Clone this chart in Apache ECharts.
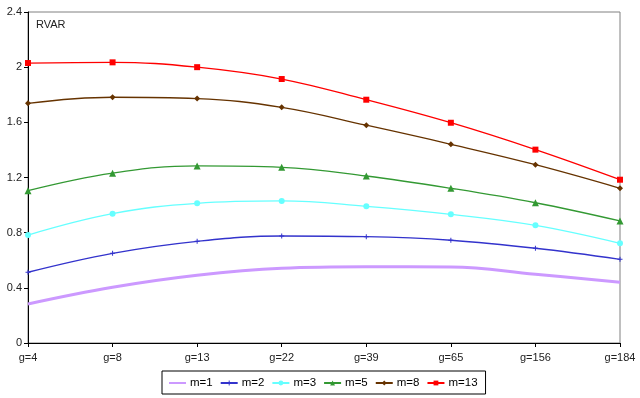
<!DOCTYPE html>
<html>
<head>
<meta charset="utf-8">
<script src="https://cdn.jsdelivr.net/npm/echarts@6/dist/echarts.min.js"></script>
<style>html,body{margin:0;padding:0;background:#fff}#c{width:640px;height:398px}</style>
</head>
<body>
<div id="c"></div>
<script>
var categories = ['g=4','g=8','g=13','g=22','g=39','g=65','g=156','g=184'];
var yTicks = ['0','0.4','0.8','1.2','1.6','2','2.4'];
var m1 = [0.283,0.404,0.491,0.542,0.553,0.551,0.498,0.440];
var m2 = [0.513,0.650,0.737,0.776,0.771,0.745,0.687,0.607];
var m3 = [0.783,0.938,1.013,1.030,0.991,0.933,0.853,0.723];
var m5 = [1.104,1.231,1.284,1.274,1.211,1.122,1.017,0.885];
var m8 = [1.738,1.782,1.772,1.709,1.579,1.441,1.293,1.122];
var m13 = [2.030,2.035,2.000,1.914,1.764,1.597,1.402,1.184];
var seriesNames = ['m=1','m=2','m=3','m=5','m=8','m=13'];

var font = 'Liberation Sans, Arial, sans-serif';
var plusPath = 'path://M4,0L6,0L6,4L10,4L10,6L6,6L6,10L4,10L4,6L0,6L0,4L4,4Z';
var diamondPlus = 'path://M5,0L10,5L5,10L0,5Z';

function mk(name, data, color, symbol, size, width) {
  return {
    name: name, type: 'line', data: data, smooth: 0.4,
    symbol: symbol, symbolSize: size, showSymbol: size > 0,
    lineStyle: {color: color, width: width},
    itemStyle: {color: color},
    emphasis: {disabled: true}
  };
}

var legendData = seriesNames.map(function (n, i) {
  return i === 0 ? {name: n, itemStyle: {opacity: 0}} : {name: n};
});

var chart = echarts.init(document.getElementById('c'), null, {renderer: 'canvas'});
chart.setOption({
  animation: false,
  backgroundColor: '#fff',
  textStyle: {fontFamily: font},
  grid: {left: 28, right: 20, top: 12, bottom: 55, show: true, borderColor: '#808080', borderWidth: 1, containLabel: false},
  graphic: [{type: 'text', left: 36, top: 19, style: {text: 'RVAR', font: '11px ' + font, fill: '#222'}}],
  legend: {
    bottom: 4, left: 162,
    itemWidth: 17, itemHeight: 6, itemGap: 7,
    padding: [6, 8, 5, 6],
    borderColor: '#000', borderWidth: 1,
    textStyle: {fontSize: 11.5, color: '#000', fontFamily: font, padding: [0,0,0,-1]},
    data: legendData
  },
  xAxis: {
    type: 'category', data: categories, boundaryGap: false,
    axisLine: {lineStyle: {color: '#000', width: 1}},
    axisTick: {show: true, length: 4, alignWithLabel: true, lineStyle: {color: '#000'}},
    axisLabel: {fontSize: 11, color: '#222', margin: 9, fontFamily: font, interval: 0},
    splitLine: {show: false}
  },
  yAxis: {
    type: 'value', min: 0, max: 2.4, interval: 0.4,
    axisLine: {show: true, lineStyle: {color: '#000', width: 1}},
    axisTick: {show: true, length: 4, lineStyle: {color: '#000'}},
    axisLabel: {fontSize: 11, color: '#222', margin: 6, fontFamily: font,
      formatter: function (v) { var i = Math.round(v / 0.4); return yTicks[i] !== undefined ? yTicks[i] : ''; }},
    splitLine: {show: false}
  },
  series: [
    mk('m=1', m1, '#CC99FF', 'circle', 0, 3),
    mk('m=2', m2, '#3333CC', plusPath, 5, 1.3),
    mk('m=3', m3, '#66FFFF', 'circle', 6, 1.3),
    mk('m=5', m5, '#339933', 'triangle', 7, 1.3),
    mk('m=8', m8, '#663300', diamondPlus, 6, 1.3),
    mk('m=13', m13, '#FF0000', 'rect', 6, 1.3)
  ]
});
</script>
</body>
</html>
